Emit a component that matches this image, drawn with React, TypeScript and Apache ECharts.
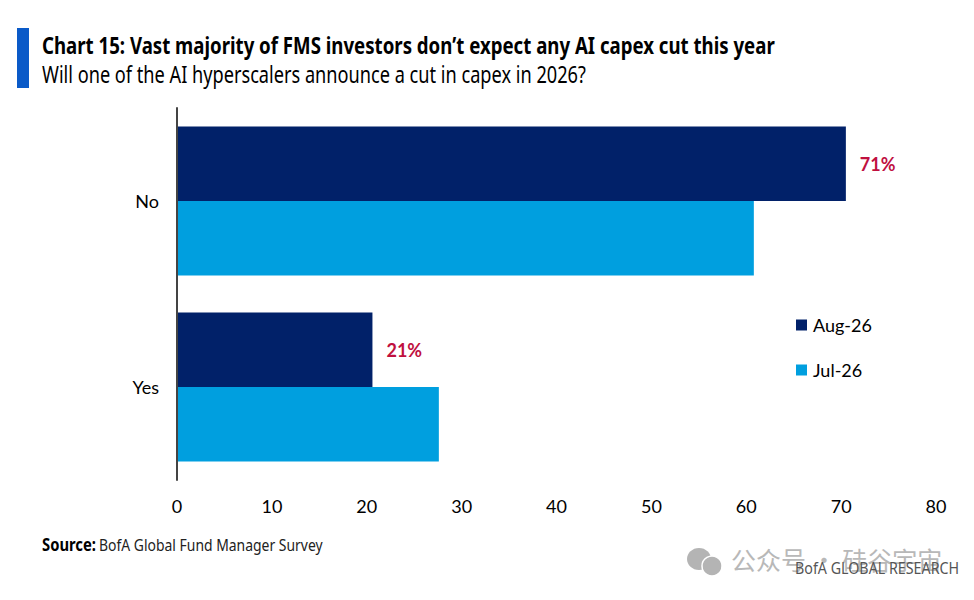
import React, { useEffect, useRef } from "react";
import * as echarts from "echarts";

const categories = ["No", "Yes"];
const aug26 = [70.5, 20.6];
const jul26 = [60.8, 27.6];
const seriesNames = ["Aug-26", "Jul-26"];
const xTicks = { min: 0, max: 80, interval: 10 };
const title = "Chart 15: Vast majority of FMS investors don\u2019t expect any AI capex cut this year";
const subtitle = "Will one of the AI hyperscalers announce a cut in capex in 2026?";
const sourceLabel = "Source:";
const sourceText = "BofA Global Fund Manager Survey";
const brand = "BofA GLOBAL RESEARCH";
const watermark = "\u516C\u4F17\u53F7 \u00B7 \u7845\u8C37\u5B87\u5B99";

const FONT = "Lato";
const WIDE = "'Noto Sans'";

export default function App() {
  const ref = useRef<HTMLDivElement>(null);
  useEffect(() => {
    const chart = echarts.init(ref.current!, undefined, { renderer: "svg" });
    chart.setOption({
      animation: false,
      backgroundColor: "#ffffff",
      grid: { left: 177, right: 38, top: 108, bottom: 120 },
      xAxis: {
        type: "value",
        ...xTicks,
        splitLine: { show: false },
        axisLine: { show: false },
        axisTick: { show: false },
        axisLabel: { color: "#000", fontFamily: FONT, fontSize: 18, margin: 17 },
      },
      yAxis: {
        type: "category",
        data: categories,
        inverse: true,
        z: 5,
        axisLine: { show: true, lineStyle: { color: "#444", width: 2 } },
        axisTick: { show: false },
        axisLabel: { color: "#000", fontFamily: FONT, fontSize: 18, margin: 18 },
      },
      legend: {
        orient: "vertical",
        left: 791,
        top: 311,
        itemWidth: 11,
        itemHeight: 11,
        itemGap: 27,
        icon: "rect",
        data: seriesNames,
        textStyle: { color: "#000", fontFamily: FONT, fontSize: 18, padding: [0, 0, 0, 1] },
      },
      series: [
        {
          name: seriesNames[0],
          type: "bar",
          data: aug26,
          barGap: "0%",
          barCategoryGap: "20%",
          itemStyle: { color: "#012169" },
          label: {
            show: true,
            position: "right",
            distance: 14,
            formatter: (p: any) => `${Math.round(p.value)}%`,
            color: "#C0103F",
            fontFamily: FONT,
            fontWeight: "bold",
            fontSize: 18,
          },
        },
        {
          name: seriesNames[1],
          type: "bar",
          data: jul26,
          itemStyle: { color: "#009FDF" },
        },
      ],
      graphic: [
        { type: "rect", shape: { x: 17, y: 28, width: 12, height: 60 }, style: { fill: "#0A5AC8" } },
        { type: "text", x: 42, y: 34, scaleX: 0.811, style: { text: title, fontFamily: WIDE, fontWeight: "bold", fontSize: 23, fill: "#000" } },
        { type: "text", x: 42, y: 63, scaleX: 0.79, style: { text: subtitle, fontFamily: WIDE, fontSize: 23, fill: "#000" } },
        { type: "text", x: 42, y: 536, scaleX: 0.87, style: { text: sourceLabel, fontFamily: WIDE, fontWeight: "bold", fontSize: 17, fill: "#000" } },
        { type: "text", x: 99, y: 536, scaleX: 0.82, style: { text: sourceText, fontFamily: WIDE, fontSize: 17, fill: "#222" } },
        { type: "ellipse", shape: { cx: 699, cy: 559, rx: 12, ry: 11 }, style: { fill: "#b4b4b4" } },
        { type: "circle", shape: { cx: 712, cy: 566, r: 10 }, style: { fill: "#b4b4b4", stroke: "#fff", lineWidth: 1.5 } },
        { type: "text", x: 731, y: 546, style: { text: watermark, fontFamily: "'Noto Sans CJK SC'", fontSize: 25, fill: "#b8b8b8" } },
        { type: "text", x: 795, y: 559, scaleX: 0.84, style: { text: brand, fontFamily: WIDE, fontSize: 17, fill: "#555" } },
      ],
    });
    return () => chart.dispose();
  }, []);
  return <div ref={ref} style={{ position: "fixed", left: 0, top: 0, width: 974, height: 600 }} />;
}
